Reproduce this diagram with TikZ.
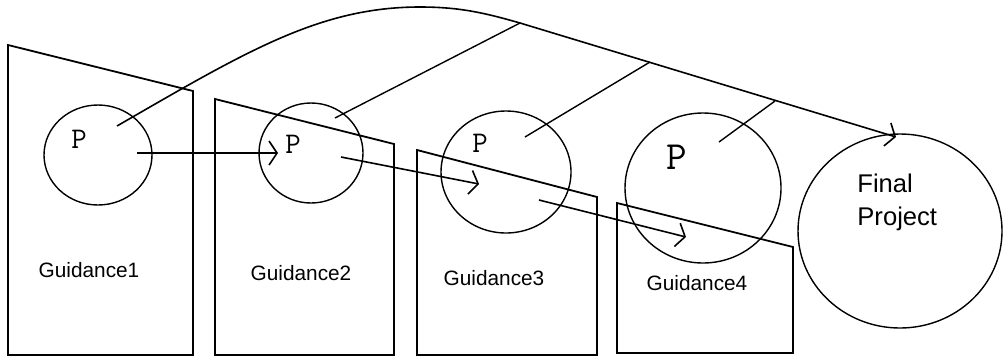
\documentclass[tikz,border=0pt]{standalone}
\usepackage{fontspec}
\setmainfont{Liberation Sans}
\usetikzlibrary{arrows.meta,shapes.geometric}

\begin{document}
\begin{tikzpicture}[x=0.5pt,y=-0.5pt,
    guide/.style={draw,line width=0.9pt},
    pcircle/.style={draw,ellipse,line width=0.7pt,inner sep=0pt},
    link/.style={line width=0.7pt},
    flow/.style={line width=0.8pt,-{Straight Barb[length=4pt,width=12pt]}},
    gtext/.style={font=\fontsize{10.4}{12}\selectfont},
    ptext/.style={inner sep=0pt,font=\ttfamily\fontsize{15}{15}\selectfont}]
    \useasboundingbox (0,0) rectangle (1004,360);

    % the four guidance boxes
    \draw[guide] (8,45) -- (193,91) -- (193,355) -- (8,355) -- cycle;
    \draw[guide] (215,99) -- (394,144) -- (394,355) -- (215,355) -- cycle;
    \draw[guide] (417,150) -- (597,197) -- (597,355) -- (417,355) -- cycle;
    \draw[guide] (617,203) -- (793,247) -- (793,353) -- (617,353) -- cycle;

    \node[gtext] (g1) at (89,270) {Guidance1};
    \node[gtext] (g2) at (301,273) {Guidance2};
    \node[gtext] (g3) at (494,278) {Guidance3};
    \node[gtext] (g4) at (697,283) {Guidance4};

    % circles
    \node[pcircle,minimum width=54pt,minimum height=50pt] (c1) at (98,155) {};
    \node[pcircle,minimum width=52pt,minimum height=50pt] (c2) at (311,153) {};
    \node[pcircle,minimum width=65pt,minimum height=61pt] (c3) at (506,172) {};
    \node[pcircle,minimum width=78pt,minimum height=75pt] (c4) at (703,188) {};
    \node[pcircle,minimum width=102pt,minimum height=97pt] (final) at (900,231) {};

    \node[ptext] (p1) at (79,139) {P};
    \node[ptext] (p2) at (293,144) {P};
    \node[ptext] (p3) at (480,143) {P};
    \node[ptext,font=\ttfamily\fontsize{20}{20}\selectfont] (p4) at (677,157) {P};
    \node[align=left,inner sep=0pt,anchor=north west,
          font=\fontsize{12.8}{16.5}\selectfont] (fp) at (857,174) {Final\\Project};

    % ends of the connectors
    \coordinate (s1) at (117,126);
    \coordinate (s2) at (335,118);
    \coordinate (s3) at (525,137);
    \coordinate (s4) at (719,142);
    \coordinate (m2) at (520,23);
    \coordinate (m3) at (650,62);
    \coordinate (m4) at (775,101);
    \coordinate (top) at (420,7);
    \coordinate (f1) at (896,137);
    \coordinate (a1) at (137,153);
    \coordinate (t1) at (278,153);
    \coordinate (a2) at (341,157);
    \coordinate (t2) at (479,184);
    \coordinate (a3) at (539,200);
    \coordinate (t3) at (686,237);

    % the long arc to the final project
    \draw[flow] (s1) .. controls (247,51) and (320,7) .. (top)
        .. controls (460,7) and (485,13) .. (m2) -- (f1);

    \path[link]
    (s2) edge (m2)
    (s3) edge (m3)
    (s4) edge (m4);

    \path[flow]
    (a1) edge (t1)
    (a2) edge (t2)
    (a3) edge (t3);
\end{tikzpicture}
\end{document}
